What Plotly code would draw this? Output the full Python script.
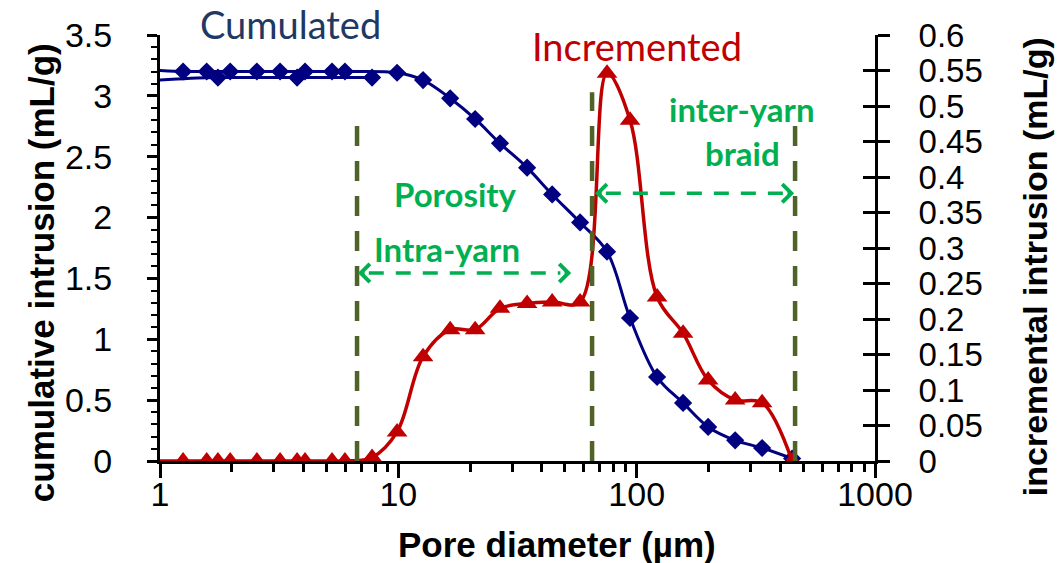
import math
import plotly.graph_objects as go

# ---------------- data ----------------
# Pore diameters (µm) of the incremental series (instrument order)
diameter = [449, 336, 259, 199.5, 156.6, 121.8, 93.8, 75.1, 57.9, 44.2, 34.7,
            26.7, 21.0, 16.5, 12.7, 9.88, 7.76, 5.97, 5.27, 4.06, 3.76, 3.19,
            2.55, 1.97, 1.75, 1.57, 1.25, 0.6]
incremental = [0, 0.082, 0.086, 0.114, 0.18, 0.231, 0.48, 0.546, 0.224, 0.224, 0.222,
               0.215, 0.185, 0.185, 0.147, 0.041, 0.005, 0, 0, 0, 0, 0,
               0, 0, 0, 0, 0, 0]
# Cumulated series, in the order traced by its smoothed line
cum_diameter = [449, 336, 259, 199.5, 156.6, 121.8, 93.8, 75.1, 57.9, 44.2, 34.7,
                26.7, 21.0, 16.5, 12.7, 9.88, 5.97, 5.27, 4.06, 3.19, 2.55, 1.97,
                1.57, 1.25, 0.6, 0.6, 1.75, 3.76, 7.76]
cumulative = [0.02, 0.107, 0.17, 0.28, 0.477, 0.69, 1.175, 1.72, 1.96, 2.19, 2.41,
              2.61, 2.81, 2.98, 3.13, 3.19, 3.2, 3.2, 3.2, 3.2, 3.2, 3.2,
              3.2, 3.2, 3.2, 3.15, 3.15, 3.15, 3.15]

# Region limits (µm) and labels
limits = [6.71, 65.0, 462]
limit_tops = [2.79, 3.03, 2.79]
intra_arrow = (6.71, 53.6, 1.545)
inter_arrow = (66.3, 462, 2.20)
x_tickvals = [1, 10, 100, 1000]

# ---------------- styles ----------------
NAVY = "#000080"
RED = "#C00000"
OLIVE = "#4F6228"
GREEN = "#00B050"
ARIAL = "Liberation Sans, Arial, sans-serif"
CALIBRI = "Lato, Carlito, Calibri, sans-serif"

fig = go.Figure()

fig.add_trace(go.Scatter(
    x=cum_diameter, y=cumulative, mode="lines",
    line=dict(color=NAVY, width=3, shape="spline", smoothing=1),
    yaxis="y", showlegend=False, hoverinfo="skip"))
fig.add_trace(go.Scatter(
    x=cum_diameter, y=cumulative, mode="markers",
    marker=dict(symbol="diamond", size=14, color=NAVY),
    yaxis="y", showlegend=False))

fig.add_trace(go.Scatter(
    x=diameter, y=incremental, mode="lines+markers",
    line=dict(color=RED, width=3.5, shape="spline", smoothing=1),
    marker=dict(symbol="triangle-up", size=18, color=RED),
    yaxis="y2", showlegend=False))

# empty trace to carry the inner tick marks of the right axis
fig.add_trace(go.Scatter(x=[], y=[], yaxis="y3", showlegend=False))

shapes = []
for xv, top in zip(limits, limit_tops):
    shapes.append(dict(type="line", xref="x", yref="y", x0=xv, x1=xv, y0=0, y1=top,
                       line=dict(color=OLIVE, width=4.5, dash="20px,15px")))
for (xa, xb, yv) in (intra_arrow, inter_arrow):
    shapes.append(dict(type="line", xref="x", yref="y", x0=xa * 1.12, x1=xb / 1.12,
                       y0=yv, y1=yv,
                       line=dict(color=GREEN, width=3.5, dash="15px,12px")))

annotations = []
for (xa, xb, yv) in (intra_arrow, inter_arrow):
    annotations.append(dict(x=math.log10(xa) + 0.004, y=yv, xref="x", yref="y",
                            ax=8, ay=0, text="", showarrow=True, arrowhead=4,
                            arrowsize=1, arrowwidth=3.5, arrowcolor=GREEN, standoff=0))
    annotations.append(dict(x=math.log10(xb) - 0.004, y=yv, xref="x", yref="y",
                            ax=-8, ay=0, text="", showarrow=True, arrowhead=4,
                            arrowsize=1, arrowwidth=3.5, arrowcolor=GREEN, standoff=0))

def label(text, x, y, size, color, family, bold=False, angle=0, xanchor="center"):
    annotations.append(dict(
        text=f"<b>{text}</b>" if bold else text, x=x, y=y, xref="paper", yref="paper",
        xanchor=xanchor, yanchor="middle", showarrow=False, textangle=angle,
        font=dict(size=size, color=color, family=family)))

label("Cumulated", 0.182, 1.026, 38, "#1F3864", CALIBRI)
label("Incremented", 0.667, 0.974, 38, RED, CALIBRI)
label("Porosity", 0.4126, 0.627, 33, GREEN, CALIBRI, bold=True)
label("Intra-yarn", 0.4014, 0.498, 33, GREEN, CALIBRI, bold=True)
label("inter-yarn", 0.814, 0.826, 33, GREEN, CALIBRI, bold=True)
label("braid", 0.814, 0.722, 33, GREEN, CALIBRI, bold=True)
label("Pore diameter (µm)", 0.555, -0.195, 35, "black", ARIAL, bold=True)
label("cumulative intrusion (mL/g)", -0.1664, 0.441, 35, "black", ARIAL, bold=True, angle=-90)
label("incremental intrusion (mL/g)", 1.2238, 0.455, 34, "black", ARIAL, bold=True, angle=-90)

fig.update_layout(
    width=1059, height=563,
    margin=dict(l=160, r=184, t=35, b=102),
    paper_bgcolor="white", plot_bgcolor="white",
    font=dict(family=ARIAL, size=33, color="black"),
    shapes=shapes, annotations=annotations,
    xaxis=dict(type="log", range=[0, 3], tickvals=x_tickvals, ticktext=[str(v) for v in x_tickvals],
               showgrid=False, zeroline=False, showline=True, linecolor="black", linewidth=3,
               ticks="outside", ticklen=14, tickwidth=2.5, tickcolor="black",
               ticklabelstandoff=-13,
               minor=dict(ticks="outside", ticklen=8, tickwidth=2.5, tickcolor="black",
                          dtick="D1", showgrid=False),
               tickfont=dict(size=34)),
    yaxis=dict(range=[0, 3.5], dtick=0.5, showgrid=False, zeroline=False,
               showline=True, linecolor="black", linewidth=3,
               ticks="outside", ticklen=10, tickwidth=2.5, tickcolor="black",
               ticklabelstandoff=28,
               minor=dict(ticks="outside", ticklen=6, tickwidth=2, tickcolor="black",
                          dtick=0.1, showgrid=False),
               tickfont=dict(size=34)),
    yaxis2=dict(range=[0, 0.6], dtick=0.05, overlaying="y", side="right", anchor="x",
                showgrid=False, zeroline=False, showline=True, linecolor="black", linewidth=3,
                ticks="outside", ticklen=12, tickwidth=2.5, tickcolor="black",
                ticklabelstandoff=22, tickfont=dict(size=33)),
    yaxis3=dict(range=[0, 0.6], dtick=0.05, overlaying="y", side="right", anchor="x",
                showgrid=False, zeroline=False, showline=False, showticklabels=False,
                ticks="inside", ticklen=12, tickwidth=2.5, tickcolor="black"),
)

fig.write_html("out.html")
